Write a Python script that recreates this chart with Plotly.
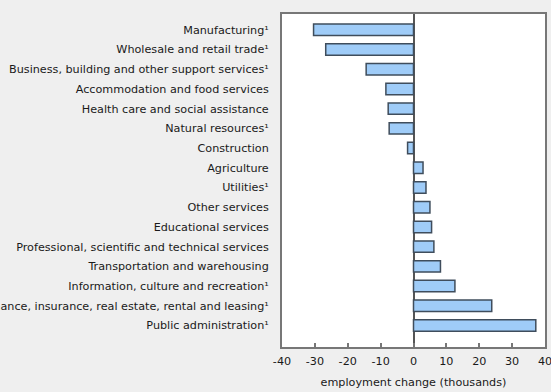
import plotly.graph_objects as go

categories = [
    "Manufacturing¹",
    "Wholesale and retail trade¹",
    "Business, building and other support services¹",
    "Accommodation and food services",
    "Health care and social assistance",
    "Natural resources¹",
    "Construction",
    "Agriculture",
    "Utilities¹",
    "Other services",
    "Educational services",
    "Professional, scientific and technical services",
    "Transportation and warehousing",
    "Information, culture and recreation¹",
    "Finance, insurance, real estate, rental and leasing¹",
    "Public administration¹",
]
values = [-30.4, -26.7, -14.4, -8.4, -7.7, -7.4, -1.8, 2.9,
          3.8, 5.0, 5.5, 6.2, 8.2, 12.6, 23.8, 37.2]
x_ticks = [-40, -30, -20, -10, 0, 10, 20, 30, 40]
x_title = "employment change (thousands)"

font = dict(family="DejaVu Sans, Verdana, sans-serif", size=11.2, color="#1a1a1a")

fig = go.Figure(go.Bar(
    x=values, y=categories, orientation="h",
    marker=dict(color="#9fccf8", line=dict(color="#3f4d5c", width=1.5)),
    hoverinfo="x+y",
))

fig.update_layout(
    width=551, height=392,
    margin=dict(l=282, r=6, t=14, b=45),
    paper_bgcolor="#efefef",
    plot_bgcolor="#ffffff",
    font=font,
    bargap=0.42,
    showlegend=False,
    xaxis=dict(
        range=[-40, 40], tickvals=x_ticks, ticktext=[str(v) for v in x_ticks],
        showgrid=False, zeroline=True, zerolinecolor="#555555", zerolinewidth=2,
        showline=True, mirror=True, linecolor="#777777", linewidth=2,
        ticks="inside", ticklen=4, tickcolor="#777777", tickwidth=2,
        ticklabelstandoff=3, ticklabeloverflow="allow",
        title=dict(text=x_title, standoff=11, font=font),
        tickfont=font, fixedrange=True, automargin=False,
    ),
    yaxis=dict(
        type="category", categoryorder="array", categoryarray=categories,
        range=[16.09, -0.8],
        showgrid=False, zeroline=False,
        showline=True, mirror=True, linecolor="#777777", linewidth=2,
        ticks="", ticklabelstandoff=9, tickfont=font, fixedrange=True,
        automargin=False,
    ),
)

fig.write_html(
    "out.html",
    config={"displayModeBar": False},
    post_script="document.body.style.margin='0';document.body.style.overflow='hidden';",
)
